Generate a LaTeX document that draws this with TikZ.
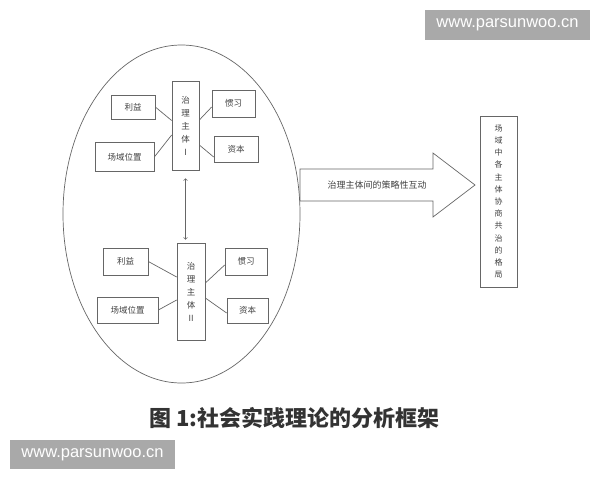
\documentclass[tikz,border=0pt]{standalone}
\usepackage{fontspec}
\newfontfamily\cjk{Noto Sans CJK SC}
\newfontfamily\wmfont{Liberation Sans}
\usetikzlibrary{shapes.geometric}
\definecolor{linegray}{gray}{0.4}
\definecolor{textgray}{gray}{0.25}
\definecolor{markgray}{HTML}{A9A9A9}
\begin{document}
\begin{tikzpicture}[x=1pt,y=-1pt,
	box/.style={draw=linegray, line width=0.7pt, inner sep=0pt, text=textgray, font=\cjk\fontsize{8.5}{13}\selectfont},
	stack/.style={box, align=center},
	link/.style={draw=linegray, line width=0.7pt}]
	\useasboundingbox (0,0) rectangle (600,480);

	%field
	\node[draw=linegray, line width=0.7pt, ellipse, minimum width=237pt, minimum height=338pt, inner sep=0pt] (field) at (181.5,214) {};

	%actor I
	\node[stack, minimum width=27pt, minimum height=89pt] (zt1) at (185.5,125.5) {治\\理\\主\\体\\I};
	\node[box, minimum width=44pt, minimum height=24pt] (ly1) at (133,107) {利益};
	\node[box, minimum width=59pt, minimum height=29pt] (cw1) at (124.5,157) {场域位置};
	\node[box, minimum width=43pt, minimum height=27pt] (gx1) at (233.5,103.5) {惯习};
	\node[box, minimum width=44pt, minimum height=26pt] (zb1) at (236,149) {资本};

	%actor II
	\node[stack, minimum width=28pt, minimum height=97pt] (zt2) at (191,291.5) {治\\理\\主\\体\\II};
	\node[box, minimum width=45pt, minimum height=27pt] (ly2) at (125.5,261.5) {利益};
	\node[box, minimum width=61pt, minimum height=26pt] (cw2) at (127.5,310) {场域位置};
	\node[box, minimum width=42pt, minimum height=27pt] (gx2) at (246,261.5) {惯习};
	\node[box, minimum width=41pt, minimum height=25pt] (zb2) at (247.5,310.5) {资本};

	%links
	\draw[link] (ly1.east) -- ([yshift=5pt]zt1.west);
	\draw[link] (cw1.east) -- ([yshift=-9.5pt]zt1.west);
	\draw[link] ([yshift=-3.5pt]gx1.west) -- ([yshift=5.5pt]zt1.east);
	\draw[link] ([yshift=-8pt]zb1.west) -- ([yshift=-19.5pt]zt1.east);
	\draw[link] (ly2.east) -- ([yshift=14.5pt]zt2.west);
	\draw[link] (cw2.east) -- ([yshift=-8.5pt]zt2.west);
	\draw[link] ([yshift=-3.5pt]gx2.west) -- ([yshift=8.5pt]zt2.east);
	\draw[link] ([yshift=-2.5pt]zb2.west) -- ([yshift=-6.5pt]zt2.east);
	\draw[link, <->, shorten <=8pt, shorten >=3pt] (zt1.south) -- (zt1.south |- zt2.north);

	%big arrow
	\draw[link] (300,169) -- (433,169) -- (433,153) -- (475,185) -- (433,217) -- (433,201) -- (300,201) -- cycle;
	\node[text=textgray, font=\cjk\fontsize{9}{11}\selectfont] (hudong) at (377,185) {治理主体间的策略性互动};

	%outcome
	\node[stack, font=\cjk\fontsize{8}{12.2}\selectfont, minimum width=37pt, minimum height=171pt] (geju) at (498.5,201.5) {场\\域\\中\\各\\主\\体\\协\\商\\共\\治\\的\\格\\局};

	%caption
	\node[text=black!80, font=\cjk\bfseries\fontsize{22}{24}\selectfont] (title) at (294.5,418) {图 1:社会实践理论的分析框架};

	%marks
	\node[fill=markgray, text=white, font=\wmfont\fontsize{16.5}{18}\selectfont, minimum width=165pt, minimum height=30pt, inner sep=0pt] (mark1) at (507.5,25) {www.parsunwoo.cn};
	\node[fill=markgray, text=white, font=\wmfont\fontsize{16.5}{18}\selectfont, minimum width=165pt, minimum height=29pt, inner sep=0pt] (mark2) at (92.5,454.5) {www.parsunwoo.cn};
\end{tikzpicture}
\end{document}
